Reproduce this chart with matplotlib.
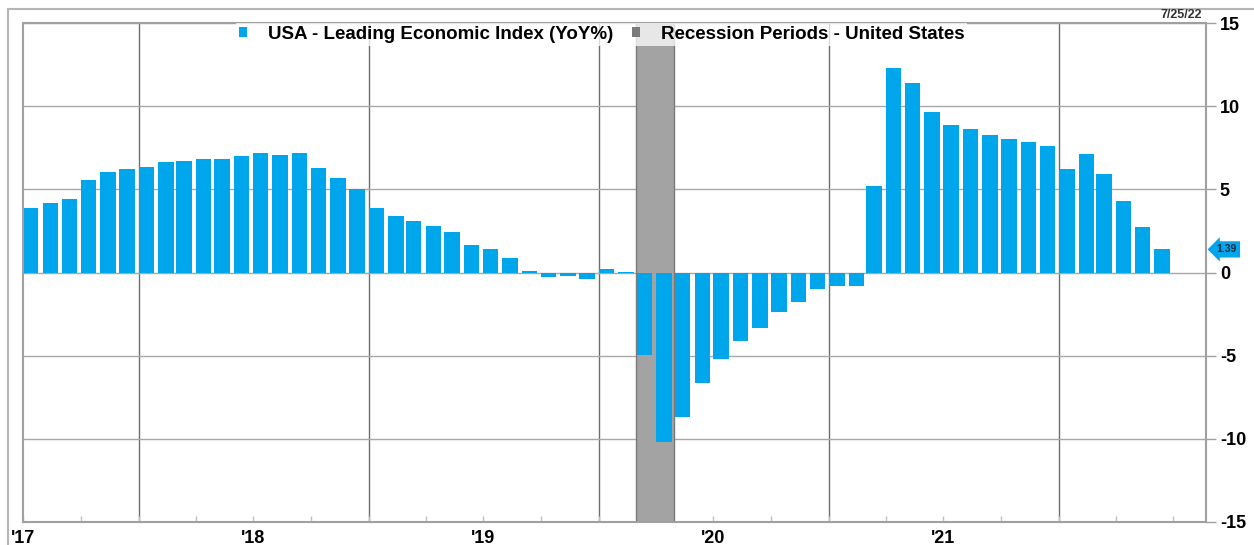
import numpy as np
import pandas as pd
import matplotlib
matplotlib.use("Agg")
import matplotlib.pyplot as plt
import matplotlib.patches as mpatches

plt.rcParams['font.family'] = ['Liberation Sans', 'DejaVu Sans']
plt.rcParams['font.weight'] = 'bold'

# monthly LEI year-over-year change, Jul 2017 - Jun 2022
months = pd.date_range('2017-07-01', '2022-06-01', freq='MS')
lei_yoy = [3.87, 4.19, 4.43, 5.57, 6.03, 6.23, 6.35, 6.63, 6.71, 6.85,
           6.85, 7.03, 7.17, 7.07, 7.21, 6.31, 5.69, 5.01, 3.87, 3.39,
           3.07, 2.80, 2.41, 1.66, 1.42, 0.86, 0.10, -0.28, -0.24, -0.38,
           0.24, 0.06, -4.95, -10.18, -8.66, -6.65, -5.19, -4.13, -3.35, -2.40,
           -1.78, -1.00, -0.80, -0.80, 5.19, 12.28, 11.42, 9.64, 8.86, 8.64,
           8.24, 8.02, 7.86, 7.62, 6.23, 7.13, 5.91, 4.27, 2.74, 1.39]
recessions = [('2020-02-29', '2020-04-30')]
year_labels = ["'17", "'18", "'19", "'20", "'21"]
y_ticks = [-15, -10, -5, 0, 5, 10, 15]
as_of = '7/25/22'

blue = '#00A6EB'
rec_gray = '#A3A3A3'

fig = plt.figure(figsize=(12.54, 5.45), dpi=100)
ax = fig.add_axes([23 / 1254, 1 - 522 / 545, (1206 - 23) / 1254, (522 - 23) / 545])

# outer frame around the whole chart
fig.patches.append(mpatches.Rectangle((8 / 1254, -0.1), 1.2, 1.1 - 9 / 545,
                                      transform=fig.transFigure, fill=False,
                                      ec='#b5b5b5', lw=1.5))

x_start = pd.Timestamp('2017-07-01')
x_end = pd.Timestamp('2022-08-22')

# recession shading
for r0, r1 in recessions:
    ax.axvspan(pd.Timestamp(r0), pd.Timestamp(r1), fc=rec_gray, ec='#7a7a7a',
               lw=1, zorder=1)

# year boundaries
for yr in range(2018, 2023):
    ax.axvline(pd.Timestamp(f'{yr}-01-01'), color='#6e6e6e', lw=1, zorder=0.5)

ax.set_ylim(-15, 15)
ax.set_yticks(y_ticks)
ax.yaxis.grid(True, color='#a8a8a8', lw=1)
ax.set_axisbelow(True)

ax.bar(months, lei_yoy, width=24.5, align='edge', color=blue, zorder=2)

ax.set_xlim(x_start, x_end)

# quarterly tick marks, year labels centred mid-year
ax.xaxis.remove_overlapping_locs = False
qticks = pd.date_range('2017-07-01', '2022-07-01', freq='QS')
ax.set_xticks(qticks)
ax.set_xticklabels([])
ax.tick_params(axis='x', which='major', direction='in', length=4,
               color='#c0c0c0', width=1)
mid_year = [pd.Timestamp(f'{2017 + i}-07-01') for i in range(len(year_labels))]
ax.set_xticks(mid_year, minor=True)
ax.set_xticklabels(year_labels, minor=True)
ax.tick_params(axis='x', which='minor', length=0, pad=6, labelsize=13)

ax.yaxis.tick_right()
ax.tick_params(axis='y', length=7, color='#a0a0a0', width=1, pad=3,
               labelsize=13)
ax.set_yticklabels([str(t) for t in y_ticks])

for s in ax.spines.values():
    s.set_color('#a0a0a0')
    s.set_linewidth(1.5)

# last value tag on the right axis
ax.text(1.009, lei_yoy[-1], f'{lei_yoy[-1]:.2f}', transform=ax.get_yaxis_transform(),
        ha='left', va='center', fontsize=7.5, fontweight='bold', color='#1a2a3a',
        bbox=dict(boxstyle='larrow,pad=0.3', fc=blue, ec='none'), clip_on=False)

handles = [mpatches.Patch(fc=blue, ec='none', label='USA - Leading Economic Index (YoY%)'),
           mpatches.Patch(fc='#7a7a7a', ec='none', label='Recession Periods - United States')]
leg = ax.legend(handles=handles, loc='upper center', bbox_to_anchor=(0.489, 1.0),
                ncol=2, frameon=True, fancybox=False, fontsize=13.5,
                handlelength=0.45, handleheight=0.45, handletextpad=1.1,
                columnspacing=1.0, borderaxespad=0, borderpad=0.15)
leg.get_frame().set_facecolor('white')
leg.get_frame().set_alpha(0.75)
leg.get_frame().set_edgecolor('none')
leg.set_zorder(5)

fig.text(1202 / 1254, 1 - 15 / 545, as_of, ha='right', va='center',
         fontsize=9, fontweight='bold', color='#333333')

fig.savefig('out.png', dpi=100)
